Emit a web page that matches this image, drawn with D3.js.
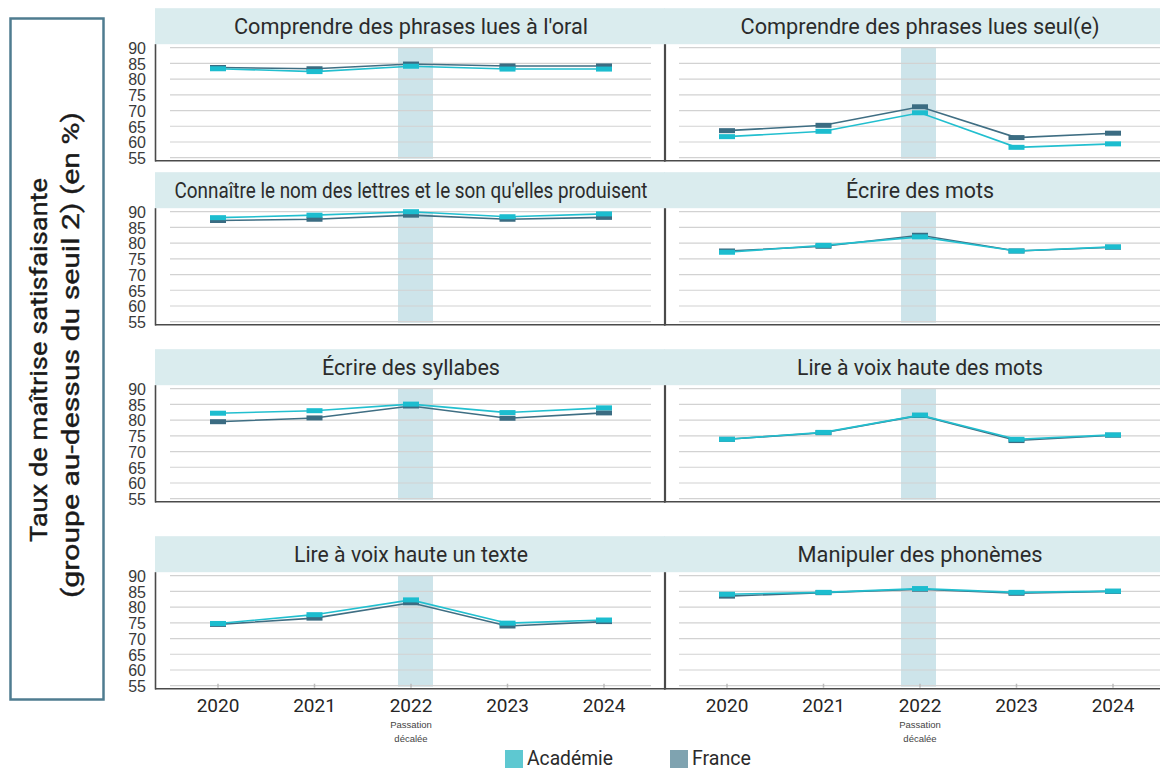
<!DOCTYPE html>
<html lang="fr">
<head>
<meta charset="utf-8">
<script src="https://cdn.jsdelivr.net/npm/d3@7.9.0/dist/d3.min.js"></script>
<style>
  html, body { margin: 0; padding: 0; background: #fff; }
  svg { display: block; }
  .title { font-family: Roboto, "Noto Sans", sans-serif; fill: #2b2b2b; }
  .ytick text { font-family: "Liberation Sans", Arial, sans-serif; font-size: 16px; fill: #3a3a3a; }
  .year { font-family: Roboto, sans-serif; font-size: 19px; fill: #262626; }
  .note { font-family: "Liberation Sans", Arial, sans-serif; font-size: 9.5px; fill: #444; }
  .legend { font-family: Roboto, sans-serif; font-size: 21px; fill: #2b2b2b; }
  .vlabel { font-family: Roboto, sans-serif; font-size: 24px; fill: #1a1a1a; }
</style>
</head>
<body>
<div id="chart"></div>
<script>
// ---------- Data ----------
const years = [2020, 2021, 2022, 2023, 2024];
const shiftedYear = 2022;
const yTicks = [90, 85, 80, 75, 70, 65, 60, 55];

const titles = [
  "Comprendre des phrases lues à l'oral",
  "Comprendre des phrases lues seul(e)",
  "Connaître le nom des lettres et le son qu'elles produisent",
  "Écrire des mots",
  "Écrire des syllabes",
  "Lire à voix haute des mots",
  "Lire à voix haute un texte",
  "Manipuler des phonèmes",
];

const academie = [
  [83.3, 82.4, 84.1, 83.2, 83.2],
  [61.7, 63.4, 69.3, 58.3, 59.4],
  [88.1, 88.9, 90.0, 88.4, 89.3],
  [77.1, 79.3, 82.0, 77.5, 78.8],
  [82.2, 83.0, 85.1, 82.4, 83.9],
  [73.9, 76.1, 81.6, 73.9, 75.3],
  [74.8, 77.6, 82.3, 74.9, 75.9],
  [84.1, 84.7, 85.9, 84.7, 85.1],
];

const france = [
  [83.7, 83.3, 84.8, 84.2, 84.2],
  [63.6, 65.3, 71.2, 61.4, 62.8],
  [87.2, 87.6, 88.9, 87.6, 88.2],
  [77.5, 79.0, 82.5, 77.5, 78.7],
  [79.5, 80.7, 84.5, 80.6, 82.3],
  [73.9, 76.0, 81.5, 73.5, 75.2],
  [74.5, 76.5, 81.4, 74.0, 75.4],
  [83.5, 84.6, 85.7, 84.4, 85.0],
];

const seriesNames = ["France", "Académie"];
const legendNames = ["Académie", "France"];

// ---------- Layout ----------
const width = 1160, height = 769;
const colLeft = [155, 664];
const colWidth = 510;
const rowTop = [47.7, 211.7, 388.7, 575.7]; // y of the 90 gridline in each row
const plotH = 110;
const bandShift = [4.5, -1.5]; // the shaded 2022 band is not exactly centred

const lineColor = { "Académie": "#22bfcf", "France": "#3f6e83" };
const markColor = { "Académie": "#1cbdcf", "France": "#3b6c82" };
const swatchColor = { "Académie": "#5ec8d1", "France": "#7fa3b0" };

// title widths measured on the reference (condensed face)
const titleWidths = [354, 359, 473, 148, 178, 246, 234, 245];

const svg = d3.select("#chart").append("svg")
  .attr("width", width).attr("height", height)
  .attr("viewBox", [0, 0, width, height]);

const x = d3.scalePoint().domain(years).range([63, 449]);

titles.forEach((title, i) => {
  const col = i % 2, row = Math.floor(i / 2);
  const top = rowTop[row];
  const y = d3.scaleLinear().domain([55, 90]).range([top + plotH, top]);
  const g = svg.append("g").attr("transform", `translate(${colLeft[col]},0)`);

  // title band
  g.append("rect")
    .attr("x", 0).attr("y", top - 39.5)
    .attr("width", col === 0 ? colWidth : width - colLeft[col])
    .attr("height", 36)
    .attr("fill", "#daecee");
  g.append("text")
    .attr("class", "title")
    .attr("x", x(shiftedYear)).attr("y", top - 13.5)
    .attr("text-anchor", "middle")
    .attr("font-size", 22)
    .attr("textLength", titleWidths[i])
    .attr("lengthAdjust", "spacingAndGlyphs")
    .text(title);

  // shaded 2022 band
  g.append("rect")
    .attr("x", x(shiftedYear) + bandShift[col] - 17.5).attr("y", y(90))
    .attr("width", 35).attr("height", y(55) - y(90) + 1)
    .attr("fill", "#cde4ea");

  // gridlines
  g.append("g").selectAll("line").data(yTicks).join("line")
    .attr("x1", 15).attr("x2", 496)
    .attr("y1", d => y(d)).attr("y2", d => y(d))
    .attr("stroke", "#d2d2d2").attr("stroke-width", 1.2);

  // y labels on left column
  if (col === 0) {
    const ax = g.append("g")
      .attr("class", "ytick")
      .attr("transform", "translate(-9,0)")
      .call(d3.axisLeft(y).tickValues(yTicks).tickSize(0).tickPadding(0));
    ax.select(".domain").remove();
    ax.selectAll("text").attr("dy", "0.36em");
  }

  // bottom tick marks on last row
  if (row === 3) {
    g.append("g").selectAll("line").data(years).join("line")
      .attr("x1", d => x(d)).attr("x2", d => x(d))
      .attr("y1", y(55) - 2).attr("y2", y(55) + 2)
      .attr("stroke", "#bbb").attr("stroke-width", 1.5);
  }

  // frame: left and bottom borders
  g.append("line")
    .attr("x1", 0).attr("x2", col === 0 ? colWidth : width - colLeft[col])
    .attr("y1", y(55) + 3).attr("y2", y(55) + 3)
    .attr("stroke", "#4a4a4a").attr("stroke-width", 1.6);
  g.append("line")
    .attr("x1", col === 0 ? 0.5 : 1).attr("x2", col === 0 ? 0.5 : 1)
    .attr("y1", top - 3.5).attr("y2", y(55) + 3.8)
    .attr("stroke", "#4a4a4a").attr("stroke-width", col === 0 ? 1.6 : 2.2);

  // series
  const sets = { "France": france[i], "Académie": academie[i] };
  seriesNames.forEach(name => {
    const vals = sets[name].map((v, k) => ({ year: years[k], v }));
    g.append("path")
      .datum(vals)
      .attr("fill", "none")
      .attr("stroke", lineColor[name])
      .attr("stroke-width", 1.6)
      .attr("d", d3.line().x(d => x(d.year)).y(d => y(d.v)));
    g.append("g").selectAll("rect").data(vals).join("rect")
      .attr("x", d => x(d.year) - 8).attr("y", d => y(d.v) - 2.5)
      .attr("width", 16).attr("height", 5)
      .attr("fill", markColor[name]);
  });

  // x labels on last row
  if (row === 3) {
    g.append("g").selectAll("text").data(years).join("text")
      .attr("class", "year")
      .attr("x", d => x(d)).attr("y", y(55) + 26)
      .attr("text-anchor", "middle")
      .text(d => d);
    g.append("text").attr("class", "note")
      .attr("x", x(shiftedYear)).attr("y", y(55) + 42)
      .attr("text-anchor", "middle").text("Passation");
    g.append("text").attr("class", "note")
      .attr("x", x(shiftedYear)).attr("y", y(55) + 56)
      .attr("text-anchor", "middle").text("décalée");
  }
});

// ---------- Vertical label box ----------
svg.append("rect")
  .attr("x", 10.5).attr("y", 18.5).attr("width", 93).attr("height", 681)
  .attr("fill", "none").attr("stroke", "#4f7c90").attr("stroke-width", 2.5);

const vLines = [
  { text: "Taux de maîtrise satisfaisante", x: 39, y: 360, len: 364 },
  { text: "(groupe au-dessus du seuil 2) (en %)", x: 71, y: 355, len: 486 },
];
svg.selectAll("text.vlabel").data(vLines).join("text")
  .attr("class", "vlabel")
  .attr("transform", d => `translate(${d.x},${d.y}) rotate(-90)`)
  .attr("text-anchor", "middle")
  .attr("dominant-baseline", "central")
  .attr("textLength", d => d.len)
  .attr("lengthAdjust", "spacingAndGlyphs")
  .attr("stroke", "#1a1a1a").attr("stroke-width", 0.4)
  .text(d => d.text);

// ---------- Legend ----------
const legendX = [505, 670];
const legendTextW = [86, 59];
const lg = svg.append("g");
legendNames.forEach((name, k) => {
  lg.append("rect")
    .attr("x", legendX[k]).attr("y", 750)
    .attr("width", 18).attr("height", 18)
    .attr("fill", swatchColor[name]);
  lg.append("text")
    .attr("class", "legend")
    .attr("x", legendX[k] + 22).attr("y", 765)
    .attr("textLength", legendTextW[k])
    .attr("lengthAdjust", "spacingAndGlyphs")
    .text(name);
});
</script>
</body>
</html>
